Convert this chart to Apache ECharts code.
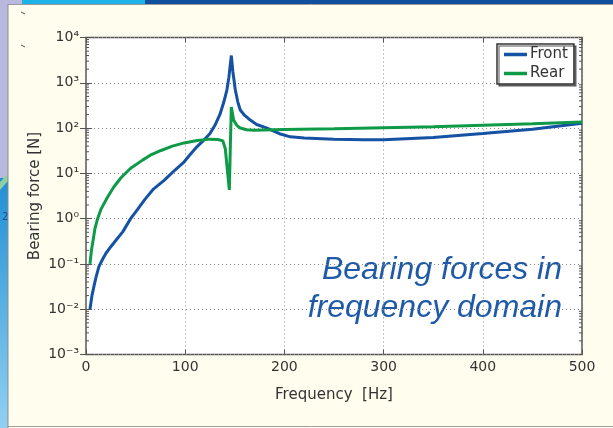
<!DOCTYPE html>
<html>
<head>
<meta charset="utf-8">
<script src="https://cdn.jsdelivr.net/npm/echarts@6/dist/echarts.min.js"></script>
<style>
  html, body { margin: 0; padding: 0; background: #fffdee; }
  #chart { width: 613px; height: 428px; }
</style>
</head>
<body>
<div id="chart"></div>
<script>
// frequency [Hz] / bearing force [N]
const frontFreq = [4, 6, 8, 10, 13, 17, 20, 25, 30, 37, 45, 52, 59, 68, 79, 90, 99, 105, 112, 118, 125, 130, 135, 139, 142, 144, 146.5, 148, 150.5, 153, 155.5, 160, 165.6, 172, 182.5, 195, 206, 220, 250, 280, 300, 350, 400, 450, 500]
const frontForce = [0.01, 0.02, 0.032, 0.05, 0.087, 0.13, 0.17, 0.24, 0.33, 0.51, 1.0, 1.6, 2.6, 4.5, 7.1, 12, 18, 26, 39, 52, 76, 115, 200, 380, 690, 1300, 4000, 1800, 700, 380, 250, 190, 150, 120, 100, 75, 64, 60, 57, 55, 55, 62, 76, 94, 128]

const rearFreq = [4, 5.5, 6.7, 9, 11.7, 15, 21.8, 28, 35.3, 45, 57, 66, 75.6, 87, 99, 112, 125.3, 133, 138, 140.4, 142.5, 144.5, 145.5, 146.5, 148.8, 152, 155.5, 162, 169, 200, 250, 300, 350, 400, 450, 500]
const rearForce = [0.1, 0.2, 0.29, 0.6, 1.0, 1.6, 3.0, 5, 8, 13, 19.6, 26, 32, 40, 47, 53, 57, 56, 52, 35, 12, 4.3, 40, 290, 150, 115, 100, 92, 90, 93, 97, 102, 107, 115, 124, 137]

const seriesNames = ['Front', 'Rear']
const xTicks = [0, 100, 200, 300, 400, 500]
const decades = [-3, -2, -1, 0, 1, 2, 3, 4]

// minor log ticks 2..9 in each decade
const minorTicks = []
for (let e = -3; e < 4; e++) {
  for (let k = 2; k <= 9; k++) minorTicks.push([0, k * Math.pow(10, e)])
}

const zip = (xs, ys) => xs.map((x, i) => [x, ys[i]])

const C = {
  front: '#1552a3',
  rear: '#0f9a48',
  text: '#333333',
  frame: '#555555',
  grid: '#8c8c8c',
  note: '#1f5aa8',
}
const FONT = 'DejaVu Sans'

const chart = echarts.init(document.getElementById('chart'), null, { renderer: 'canvas' })

const SUP = { '-': '⁻', '0': '⁰', '1': '¹', '2': '²', '3': '³', '4': '⁴' }
function supLabel(v) {
  const e = String(Math.round(Math.log10(v)))
  return '10' + e.split('').map(ch => SUP[ch]).join('')
}

const option = {
  backgroundColor: '#fffdee',
  animation: false,
  textStyle: { fontFamily: FONT },
  grid: {
    left: 86, right: 31, top: 37.5, bottom: 73.5,
    show: true, backgroundColor: '#ffffff',
    borderColor: C.frame, borderWidth: 1.5,
  },
  legend: {
    data: seriesNames,
    orient: 'vertical',
    left: 497, top: 44,
    icon: 'rect', itemWidth: 23, itemHeight: 3.5, itemGap: 4,
    padding: [3, 6, 3, 7],
    backgroundColor: '#ffffff',
    borderColor: '#333', borderWidth: 1.5, borderRadius: 0,
    shadowColor: 'rgba(0,0,0,0.45)', shadowOffsetX: 2, shadowOffsetY: 2,
    textStyle: { fontFamily: FONT, fontSize: 15, color: C.text, padding: [0, 0, 0, -2] },
  },
  xAxis: [
    {
      type: 'value', min: xTicks[0], max: xTicks[xTicks.length - 1], interval: 100,
      name: 'Frequency  [Hz]', nameLocation: 'middle', nameGap: 33, nameMoveOverlap: false,
      nameTextStyle: { fontFamily: FONT, fontSize: 15, color: C.text },
      axisLine: { show: false },
      axisTick: { inside: true, length: 5, lineStyle: { color: C.frame } },
      axisLabel: { color: C.text, fontFamily: FONT, fontSize: 14, margin: 6 },
      splitLine: { show: true, lineStyle: { color: C.grid, type: [1, 3], width: 1 } },
    },
    {
      type: 'value', position: 'top', min: 0, max: 500, interval: 100,
      axisLine: { show: false },
      axisTick: { inside: true, length: 5, lineStyle: { color: C.frame } },
      axisLabel: { show: false }, splitLine: { show: false },
    },
  ],
  yAxis: [
    {
      type: 'log', logBase: 10,
      min: Math.pow(10, decades[0]), max: Math.pow(10, decades[decades.length - 1]),
      name: 'Bearing force [N]', nameLocation: 'middle', nameGap: 43, nameMoveOverlap: false,
      nameTextStyle: { fontFamily: FONT, fontSize: 15, color: C.text },
      axisLine: { show: false },
      axisTick: { inside: true, length: 6, lineStyle: { color: C.frame } },
      axisLabel: { color: C.text, fontFamily: FONT, fontSize: 14, margin: 7, formatter: supLabel },
      splitLine: { show: true, lineStyle: { color: C.grid, type: [1, 3], width: 1 } },
    },
    {
      type: 'log', logBase: 10, position: 'right',
      min: Math.pow(10, decades[0]), max: Math.pow(10, decades[decades.length - 1]),
      axisLine: { show: false },
      axisTick: { inside: true, length: 6, lineStyle: { color: C.frame } },
      axisLabel: { show: false }, splitLine: { show: false },
    },
  ],
  series: [
    {
      name: 'Rear', type: 'line', data: zip(rearFreq, rearForce),
      symbol: 'none', lineStyle: { color: C.rear, width: 3 }, itemStyle: { color: C.rear },
      z: 3,
    },
    {
      name: 'Front', type: 'line', data: zip(frontFreq, frontForce),
      symbol: 'none', lineStyle: { color: C.front, width: 3 }, itemStyle: { color: C.front },
      z: 2,
    },
    {
      // minor ticks on the left and right frame
      type: 'custom', silent: true, data: minorTicks, z: 4,
      encode: { x: 0, y: 1 },
      renderItem(params, api) {
        const l = api.coord([0, api.value(1)])
        const r = api.coord([500, api.value(1)])
        const st = { stroke: C.frame, lineWidth: 1 }
        return {
          type: 'group',
          children: [
            { type: 'line', shape: { x1: l[0], y1: l[1], x2: l[0] + 3, y2: l[1] }, style: st },
            { type: 'line', shape: { x1: r[0], y1: r[1], x2: r[0] - 3, y2: r[1] }, style: st },
          ],
        }
      },
    },
  ],
  graphic: [
    // slide chrome around the figure
    { type: 'rect', left: 0, top: 0, shape: { width: 8, height: 178 }, style: { fill: '#b9b9df' }, silent: true },
    {
      type: 'rect', left: 0, top: 178, shape: { width: 8, height: 250 }, silent: true,
      style: { fill: new echarts.graphic.LinearGradient(0, 0, 0, 1, [{ offset: 0, color: '#1f8fd2' }, { offset: 1, color: '#92d0f3' }]) },
    },
    { type: 'polygon', shape: { points: [[0, 182], [8, 174], [8, 181], [0, 190]] }, style: { fill: '#8fcfa8' }, silent: true },
    { type: 'rect', left: 0, top: 0, shape: { width: 22, height: 4 }, style: { fill: '#b9b9df' }, silent: true },
    { type: 'rect', left: 22, top: 0, shape: { width: 123, height: 4 }, style: { fill: '#1bb3e8' }, silent: true },
    { type: 'rect', left: 145, top: 0, shape: { width: 468, height: 4 }, style: { fill: '#0f4f9e' }, silent: true },
    { type: 'line', shape: { x1: 8, y1: 4.5, x2: 613, y2: 4.5 }, style: { stroke: '#9a9a9a', lineWidth: 1 }, silent: true },
    { type: 'line', shape: { x1: 8, y1: 4, x2: 8, y2: 428 }, style: { stroke: '#8a8a8a', lineWidth: 1 }, silent: true },
    { type: 'line', shape: { x1: 8, y1: 426.5, x2: 613, y2: 426.5 }, style: { stroke: '#a0a0a0', lineWidth: 1 }, silent: true },
    { type: 'line', shape: { x1: 21, y1: 12, x2: 25, y2: 14 }, style: { stroke: '#555', lineWidth: 1 }, silent: true },
    { type: 'line', shape: { x1: 21, y1: 45, x2: 25, y2: 47 }, style: { stroke: '#555', lineWidth: 1 }, silent: true },
    { type: 'text', x: 2, y: 212, style: { text: '2', fill: '#1a4f9a', font: '10px ' + FONT }, silent: true },
    // annotation inside the plot
    {
      type: 'text', x: 562, y: 251, silent: true,
      style: {
        text: 'Bearing forces in\nfrequency domain',
        fill: C.note, align: 'right', verticalAlign: 'top',
        font: 'italic 32px "Liberation Sans", Arial, sans-serif',
        lineHeight: 38,
      },
    },
  ],
}

chart.setOption(option)
</script>
</body>
</html>
